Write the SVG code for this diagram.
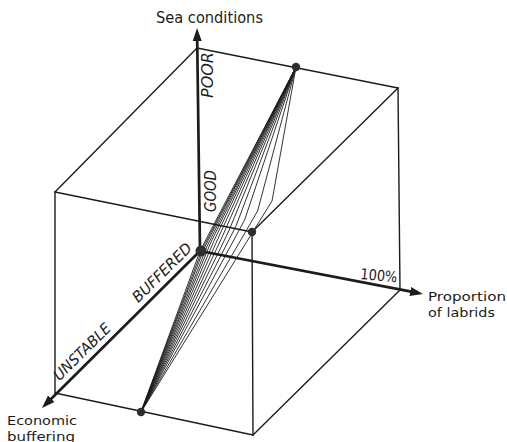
<svg xmlns="http://www.w3.org/2000/svg" width="507" height="442" viewBox="0 0 507 442">
<style>
.edge{stroke:#1c1c1c;stroke-width:1.4;fill:none;stroke-linecap:round}
.axis{stroke:#1c1c1c;stroke-width:2.7;fill:none}
.fan{stroke:#1c1c1c;stroke-width:0.9;fill:none;stroke-linejoin:round}
.dot{fill:#2e2e2e}
.cap{font-family:"DejaVu Sans","Liberation Sans",sans-serif;fill:#1c1c1c}
.lab{font-family:"DejaVu Sans","Liberation Sans",sans-serif;font-style:italic;fill:#1c1c1c;font-size:15px}
</style>
<defs>
<marker id="arr" viewBox="0 -5 13 10" markerWidth="13" markerHeight="10" refX="1" refY="0" orient="auto" markerUnits="userSpaceOnUse">
<path d="M0,-4.5 L13,0 L0,4.5 z" fill="#1c1c1c"/>
</marker>
</defs>
<rect width="507" height="442" fill="#ffffff"/>
<g id="connectors">
<g id="cube">
<line class="edge" x1="197" y1="48" x2="398" y2="88"/>
<line class="edge" x1="398" y1="88" x2="400" y2="290"/>
<line class="edge" x1="197" y1="48" x2="55" y2="192"/>
<line class="edge" x1="55" y1="192" x2="55" y2="393"/>
<line class="edge" x1="55" y1="192" x2="252" y2="232"/>
<line class="edge" x1="252" y1="232" x2="398" y2="88"/>
<line class="edge" x1="252" y1="232" x2="253" y2="435"/>
<line class="edge" x1="55" y1="393" x2="253" y2="435"/>
<line class="edge" x1="253" y1="435" x2="400" y2="290"/>
</g>
<g id="axes">
<line class="axis" x1="200" y1="251" x2="197.2" y2="40" marker-end="url(#arr)"/>
<line class="axis" x1="200" y1="251" x2="411.2" y2="291.7" marker-end="url(#arr)"/>
<line class="axis" x1="200" y1="251" x2="50.5" y2="399.5" marker-end="url(#arr)"/>
</g>
<g id="surface">
<path class="fan" d="M141,412 L200,251 L296,67"/>
<path class="fan" d="M141,412 L202.2,249.5 L296,67"/>
<path class="fan" d="M141,412 L204.3,248 L296,67"/>
<path class="fan" d="M141,412 L207.2,246 L296,67"/>
<path class="fan" d="M141,412 L210.1,244 L296,67"/>
<path class="fan" d="M141,412 L213.7,241.5 L296,67"/>
<path class="fan" d="M141,412 L218,238.5 L296,67"/>
<path class="fan" d="M141,412 L223,235 L296,67"/>
<path class="fan" d="M141,412 L228.8,231 L296,67"/>
<path class="fan" d="M141,412 L236,226 L296,67"/>
<path class="fan" d="M141,412 L244.6,220 L296,67"/>
<path class="fan" d="M141,412 L257.6,211 L296,67"/>
<path class="fan" d="M141,412 L272,201 L296,67"/>
</g>
</g>
<g id="node-origin"><circle class="dot" cx="201" cy="251" r="5.5"/></g>
<g id="node-p1"><circle class="dot" cx="141" cy="412" r="4.2"/></g>
<g id="node-p2"><circle class="dot" cx="296" cy="67" r="4.2"/></g>
<g id="node-h"><circle class="dot" cx="252" cy="232" r="4.2"/></g>
<g id="label-sea"><text class="cap" x="156" y="23" font-size="15" textLength="107" lengthAdjust="spacingAndGlyphs">Sea conditions</text></g>
<g id="label-poor"><text class="lab" transform="translate(213,98) rotate(-90)" textLength="46" lengthAdjust="spacingAndGlyphs">POOR</text></g>
<g id="label-good"><text class="lab" transform="translate(216,212) rotate(-90)" textLength="42" lengthAdjust="spacingAndGlyphs">GOOD</text></g>
<g id="label-buffered"><text class="lab" transform="translate(138.3,303.3) rotate(-44.7)" textLength="77" lengthAdjust="spacingAndGlyphs">BUFFERED</text></g>
<g id="label-unstable"><text class="lab" transform="translate(59.4,381.4) rotate(-44.7)" textLength="74" lengthAdjust="spacingAndGlyphs">UNSTABLE</text></g>
<g id="label-100"><text class="cap" font-size="15" transform="translate(360,279) rotate(5)" textLength="37" lengthAdjust="spacingAndGlyphs">100%</text></g>
<g id="label-proportion">
<text class="cap" x="428" y="301" font-size="13" textLength="78" lengthAdjust="spacingAndGlyphs">Proportion</text>
<text class="cap" x="428" y="317" font-size="13" textLength="67" lengthAdjust="spacingAndGlyphs">of labrids</text>
</g>
<g id="label-economic">
<text class="cap" x="7" y="424.5" font-size="13" textLength="70" lengthAdjust="spacingAndGlyphs">Economic</text>
<text class="cap" x="7" y="440.5" font-size="13" textLength="68" lengthAdjust="spacingAndGlyphs">buffering</text>
</g>
</svg>
